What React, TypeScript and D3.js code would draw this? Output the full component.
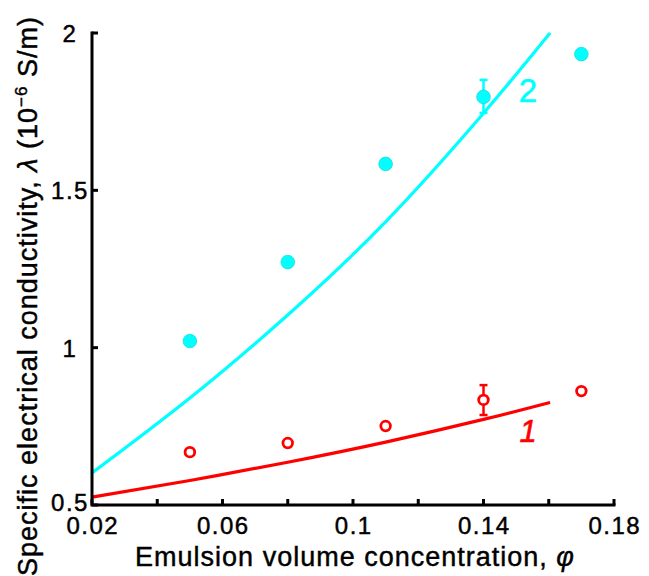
import React from "react";
import * as d3 from "d3";

const xTicks = [0.02, 0.04, 0.06, 0.08, 0.1, 0.12, 0.14, 0.16, 0.18];
const xTickLabels = ["0.02", "", "0.06", "", "0.1", "", "0.14", "", "0.18"];
const yTicks = [0.5, 1, 1.5, 2];
const yTickLabels = ["0.5", "1", "1.5", "2"];

const phiPoints = [0.05, 0.08, 0.11, 0.14, 0.17];
const series2Values = [1.021, 1.272, 1.584, 1.797, 1.933];
const series1Values = [0.668, 0.697, 0.751, 0.834, 0.862];
const errPhi = 0.14;
const err2 = [1.746, 1.851];
const err1 = [0.786, 0.881];

const curvePhi = [0.02, 0.05, 0.08, 0.11, 0.14, 0.1604];
const curve2Values = [0.602, 0.84, 1.104, 1.4, 1.745, 2.0];
const curve1Values = [0.525, 0.578, 0.636, 0.7, 0.772, 0.826];

const CYAN = "#00ffff";
const RED = "#ff0000";
const FONT = "'Liberation Sans', Arial, sans-serif";

export default function App() {
  const x = d3.scaleLinear().domain([0.02, 0.18]).range([92, 614]);
  const y = d3.scaleLinear().domain([0.5, 2]).range([505, 33]);
  const line = d3
    .line<[number, number]>()
    .x((d) => x(d[0]))
    .y((d) => y(d[1]))
    .curve(d3.curveNatural);
  const c2 = curvePhi.map((p, i) => [p, curve2Values[i]] as [number, number]);
  const c1 = curvePhi.map((p, i) => [p, curve1Values[i]] as [number, number]);
  const txt = { fill: "#000", stroke: "#000", strokeWidth: 0.45 };

  return (
    <svg
      width={649}
      height={576}
      style={{ position: "absolute", left: 0, top: 0, background: "#fff" }}
      fontFamily={FONT}
    >
      {/* curves */}
      <path d={line(c2) || ""} fill="none" stroke={CYAN} strokeWidth={3.2} />
      <path d={line(c1) || ""} fill="none" stroke={RED} strokeWidth={3.2} />

      {/* error bars */}
      <g stroke={CYAN} strokeWidth={2.5}>
        <line x1={x(errPhi)} x2={x(errPhi)} y1={y(err2[0])} y2={y(err2[1])} />
        <line x1={x(errPhi) - 4} x2={x(errPhi) + 4} y1={y(err2[0])} y2={y(err2[0])} />
        <line x1={x(errPhi) - 4} x2={x(errPhi) + 4} y1={y(err2[1])} y2={y(err2[1])} />
      </g>
      <g stroke={RED} strokeWidth={2.5}>
        <line x1={x(errPhi)} x2={x(errPhi)} y1={y(err1[0])} y2={y(err1[1])} />
        <line x1={x(errPhi) - 4} x2={x(errPhi) + 4} y1={y(err1[0])} y2={y(err1[0])} />
        <line x1={x(errPhi) - 4} x2={x(errPhi) + 4} y1={y(err1[1])} y2={y(err1[1])} />
      </g>

      {/* markers */}
      {phiPoints.map((p, i) => (
        <circle key={"c" + i} cx={x(p)} cy={y(series2Values[i])} r={6.8} fill={CYAN} stroke="#10dede" strokeWidth={0.8} />
      ))}
      {phiPoints.map((p, i) => (
        <circle key={"r" + i} cx={x(p)} cy={y(series1Values[i])} r={4.8} fill="#fff" stroke={RED} strokeWidth={2.8} />
      ))}

      {/* curve labels */}
      <text x={528} y={102} fontSize={33} fill={CYAN} stroke={CYAN} strokeWidth={0.6} textAnchor="middle">2</text>
      <text x={528} y={442} fontSize={31} fill={RED} stroke={RED} strokeWidth={0.6} textAnchor="middle" fontStyle="italic">1</text>

      {/* axes */}
      <g stroke="#000" strokeWidth={3} fill="none">
        <path d={`M${x(0.02)},${y(2)} V${y(0.5)} H${x(0.18)}`} strokeLinecap="square" />
        {xTicks.map((t) => (
          <line key={"xt" + t} x1={x(t)} x2={x(t)} y1={y(0.5)} y2={y(0.5) - 6} />
        ))}
        {yTicks.map((t) => (
          <line key={"yt" + t} x1={x(0.02)} x2={x(0.02) + 6} y1={y(t)} y2={y(t)} />
        ))}
      </g>
      {xTicks.map((t, i) =>
        xTickLabels[i] ? (
          <text key={"xl" + t} x={x(t) + 0.75} y={534} fontSize={24} letterSpacing={1.5} textAnchor="middle" {...txt}>
            {xTickLabels[i]}
          </text>
        ) : null
      )}
      {yTicks.map((t, i) => (
        <text key={"yl" + t} x={70} y={y(t) + (t === 0.5 ? 6 : 9)} fontSize={24} letterSpacing={1.5} textAnchor="middle" {...txt}>
          {yTickLabels[i]}
        </text>
      ))}

      {/* axis titles */}
      <text x={355} y={566} fontSize={27} letterSpacing={1} textAnchor="middle" {...txt}>
        Emulsion volume concentration, <tspan fontStyle="italic">φ</tspan>
      </text>
      <text
        transform={`translate(37, 296) rotate(-90)`}
        fontSize={27}
        letterSpacing={1}
        textAnchor="middle"
        {...txt}
      >
        Specific electrical conductivity, <tspan fontStyle="italic">λ</tspan> (10
        <tspan dy={-10} fontSize={17}>−6</tspan>
        <tspan dy={10}> S/m)</tspan>
      </text>
    </svg>
  );
}
